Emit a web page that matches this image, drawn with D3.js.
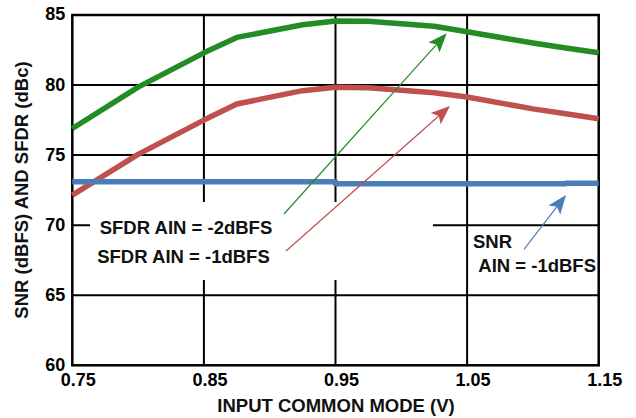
<!DOCTYPE html>
<html>
<head>
<meta charset="utf-8">
<script src="https://cdnjs.cloudflare.com/ajax/libs/d3/7.8.5/d3.min.js"></script>
<style>
  html, body { margin: 0; padding: 0; background: #fff; }
  svg { display: block; font-family: "Liberation Sans", Arial, sans-serif; font-weight: bold; }
</style>
</head>
<body>
<div id="chart"></div>
<script>
// input common mode (V)
var inputCM = [0.75, 0.80, 0.85, 0.875, 0.925, 0.95, 0.975, 1.025, 1.05, 1.10, 1.125, 1.15];
// SFDR AIN = -2dBFS (dBc)
var sfdr2 = [76.9, 79.85, 82.3, 83.4, 84.3, 84.57, 84.55, 84.2, 83.8, 83.0, 82.65, 82.3];
// SFDR AIN = -1dBFS (dBc)
var sfdr1 = [72.15, 75.05, 77.5, 78.65, 79.6, 79.85, 79.8, 79.45, 79.15, 78.3, 77.95, 77.6];
// SNR AIN = -1dBFS (dBFS)
var snr1 = [73.1, 73.1, 73.1, 73.1, 73.1, 72.96, 72.96, 72.96, 72.96, 72.96, 73.0, 73.0];

var xTicks = [0.75, 0.85, 0.95, 1.05, 1.15];
var yTicks = [60, 65, 70, 75, 80, 85];

var width = 636, height = 418;
var plot = { left: 72.3, right: 598.7, top: 15, bottom: 365.3 };

var svg = d3.select('#chart')
  .append('svg')
    .attr('width', width)
    .attr('height', height);

var x = d3.scaleLinear().domain([0.75, 1.15]).range([plot.left, plot.right]);
var y = d3.scaleLinear().domain([60, 85]).range([plot.bottom, plot.top]);

// grid
var grid = svg.append('g').attr('stroke', '#000').attr('stroke-width', 2);
grid.selectAll('.hg')
  .data(yTicks.slice(1, -1))
  .enter().append('line')
    .attr('x1', plot.left).attr('x2', plot.right)
    .attr('y1', d => y(d)).attr('y2', d => y(d));
grid.selectAll('.vg')
  .data(xTicks.slice(1, -1))
  .enter().append('line')
    .attr('y1', plot.top).attr('y2', plot.bottom)
    .attr('x1', d => x(d)).attr('x2', d => x(d));

// white box behind the SFDR labels
svg.append('rect')
  .attr('x', 90).attr('y', 202)
  .attr('width', 343).attr('height', 78)
  .attr('fill', '#fff');

// frame
svg.append('rect')
  .attr('x', plot.left).attr('y', plot.top)
  .attr('width', plot.right - plot.left)
  .attr('height', plot.bottom - plot.top)
  .attr('fill', 'none')
  .attr('stroke', '#000')
  .attr('stroke-width', 2.5);

// tick labels
svg.append('g')
  .attr('font-size', 18)
  .attr('text-anchor', 'end')
  .selectAll('text')
  .data(yTicks)
  .enter().append('text')
    .attr('x', plot.left - 7)
    .attr('y', d => y(d) - 1)
    .attr('dy', '0.36em')
    .text(d => d);

svg.append('g')
  .attr('font-size', 18)
  .attr('text-anchor', 'middle')
  .selectAll('text')
  .data(xTicks)
  .enter().append('text')
    .attr('x', d => x(d) + 6)
    .attr('y', 385.5)
    .text(d => d.toFixed(2));

// series
var series = [
  { values: sfdr2, color: '#248c24', curve: d3.curveLinear },
  { values: sfdr1, color: '#c0504d', curve: d3.curveLinear },
  { values: snr1, color: '#4a7ebb', curve: d3.curveStepAfter }
];

series.forEach(function (s) {
  var line = d3.line()
    .x(function (d, i) { return x(inputCM[i]); })
    .y(function (d) { return y(d); })
    .curve(s.curve);
  svg.append('path')
    .datum(s.values)
    .attr('d', line)
    .attr('fill', 'none')
    .attr('stroke', s.color)
    .attr('stroke-width', 5.5)
    .attr('stroke-linejoin', 'round');
});

// annotation arrows (from label to curve)
var arrows = [
  { from: [284, 214], to: [446.7, 33.3], color: '#248c24' },
  { from: [286, 251], to: [450, 106], color: '#c0504d' },
  { from: [524, 249.3], to: [566, 195], color: '#4a7ebb' }
];

arrows.forEach(function (a) {
  var dx = a.to[0] - a.from[0], dy = a.to[1] - a.from[1];
  var len = Math.sqrt(dx * dx + dy * dy);
  var ux = dx / len, uy = dy / len;
  var px = -uy, py = ux;
  var hl = 19, hw = 7.5, notch = 4;
  var bx = a.to[0] - ux * hl, by = a.to[1] - uy * hl;
  svg.append('line')
    .attr('x1', a.from[0]).attr('y1', a.from[1])
    .attr('x2', bx + ux * notch).attr('y2', by + uy * notch)
    .attr('stroke', a.color)
    .attr('stroke-width', 1.2);
  var head = [
    a.to,
    [bx + px * hw, by + py * hw],
    [bx + ux * notch, by + uy * notch],
    [bx - px * hw, by - py * hw]
  ];
  svg.append('path')
    .attr('d', 'M' + head.map(p => p.join(',')).join('L') + 'Z')
    .attr('fill', a.color);
});

// labels
var labels = svg.append('g').attr('font-size', 18.5).attr('fill', '#111');
labels.append('text').attr('x', 186).attr('y', 233.5).attr('text-anchor', 'middle').text('SFDR AIN = -2dBFS');
labels.append('text').attr('x', 183.5).attr('y', 263).attr('text-anchor', 'middle').text('SFDR AIN = -1dBFS');
labels.append('text').attr('x', 473).attr('y', 247.5).text('SNR');
labels.append('text').attr('x', 596).attr('y', 272).attr('text-anchor', 'end').text('AIN = -1dBFS');

// axis titles
svg.append('text')
  .attr('x', 336).attr('y', 411.5)
  .attr('text-anchor', 'middle')
  .attr('font-size', 18.5)
  .attr('fill', '#111')
  .text('INPUT COMMON MODE (V)');

svg.append('text')
  .attr('transform', 'translate(27.5,190) rotate(-90)')
  .attr('text-anchor', 'middle')
  .attr('font-size', 18.5)
  .attr('fill', '#111')
  .text('SNR (dBFS) AND SFDR (dBc)');
</script>
</body>
</html>
